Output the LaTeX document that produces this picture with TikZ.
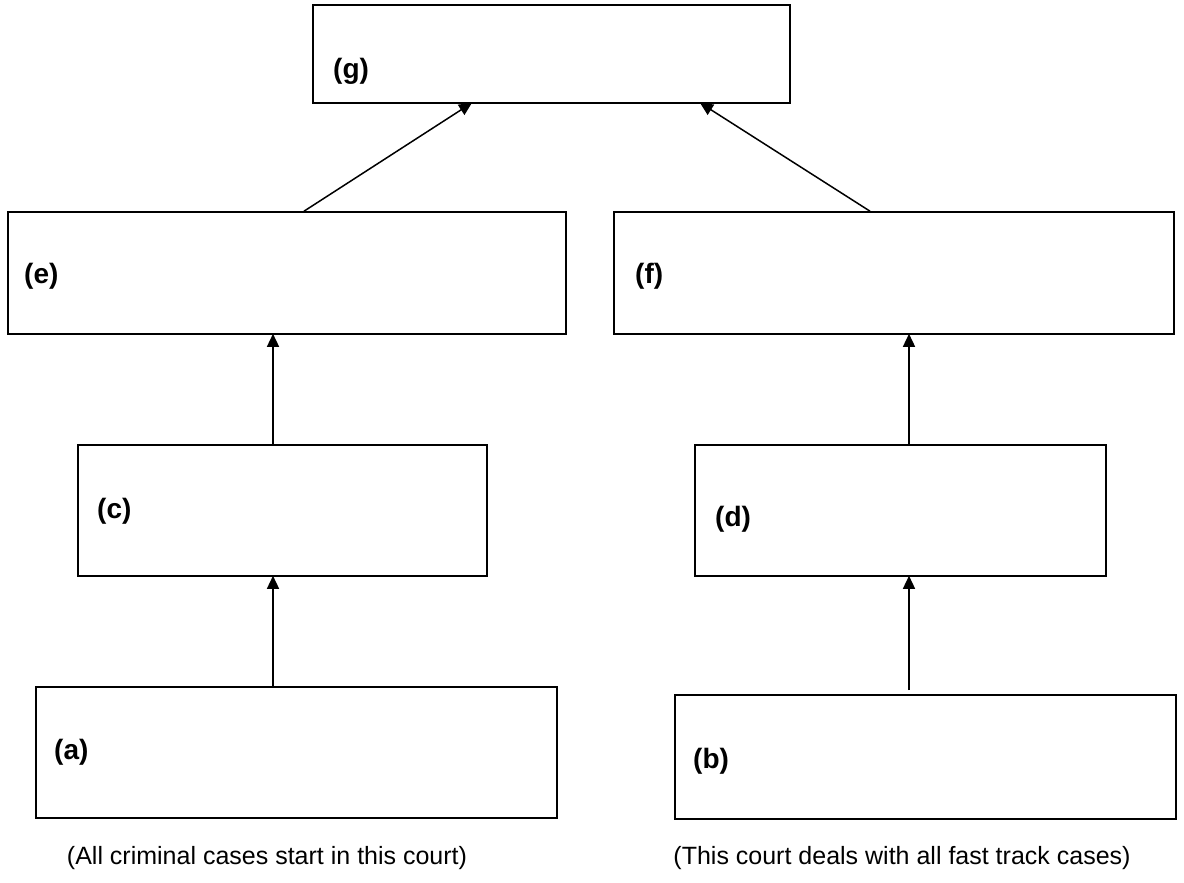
\documentclass[tikz,border=0pt]{standalone}
\usepackage{fontspec}
\setmainfont{Liberation Sans}
\usetikzlibrary{arrows.meta}
\begin{document}
\begin{tikzpicture}[x=1pt,y=-1pt,
  court/.style={draw,line width=1.6pt,inner sep=0pt},
  lbl/.style={font=\fontsize{28}{32}\selectfont\bfseries,anchor=west,inner sep=0pt},
  captxt/.style={font=\fontsize{25}{28}\selectfont,inner sep=0pt},
  link/.style={line width=1.5pt,-{Triangle[length=13pt,width=12pt]}}]
\useasboundingbox (0,0) rectangle (1184,883);
\node[court,minimum width=477pt,minimum height=98pt] (g) at (551.5,54) {};
\node[court,minimum width=558pt,minimum height=122pt] (e) at (287,273) {};
\node[court,minimum width=560pt,minimum height=122pt] (f) at (894,273) {};
\node[court,minimum width=409pt,minimum height=131pt] (c) at (282.5,510.5) {};
\node[court,minimum width=411pt,minimum height=131pt] (d) at (900.5,510.5) {};
\node[court,minimum width=521pt,minimum height=131pt] (a) at (296.5,752.5) {};
\node[court,minimum width=501pt,minimum height=124pt] (b) at (925.5,757) {};
\node[lbl] (lg) at (333,71) {(g)};
\node[lbl] (le) at (24,276) {(e)};
\node[lbl] (lf) at (635,276) {(f)};
\node[lbl] (lc) at (97,511) {(c)};
\node[lbl] (ld) at (715,519) {(d)};
\node[lbl] (la) at (54,752) {(a)};
\node[lbl] (lb) at (693,761) {(b)};
\node[captxt] (ca) at (267,858) {(All criminal cases start in this court)};
\node[captxt] (cb) at (902,858) {(This court deals with all fast track cases)};
\coordinate (xe) at (304,0);
\coordinate (xg1) at (472,0);
\coordinate (xf) at (870,0);
\coordinate (xg2) at (700,0);
\coordinate (xl) at (273,0);
\coordinate (xr) at (909,0);
\coordinate (bt) at (909,690);
\draw[link] (e.north -| xe) -- ([yshift=1pt]g.south -| xg1);
\draw[link] (f.north -| xf) -- ([yshift=1pt]g.south -| xg2);
\draw[link] (c.north -| xl) -- ([yshift=1pt]e.south -| xl);
\draw[link] (d.north -| xr) -- ([yshift=1pt]f.south -| xr);
\draw[link] (a.north -| xl) -- ([yshift=1pt]c.south -| xl);
\draw[link] (bt) -- ([yshift=1pt]d.south -| xr);
\end{tikzpicture}
\end{document}
